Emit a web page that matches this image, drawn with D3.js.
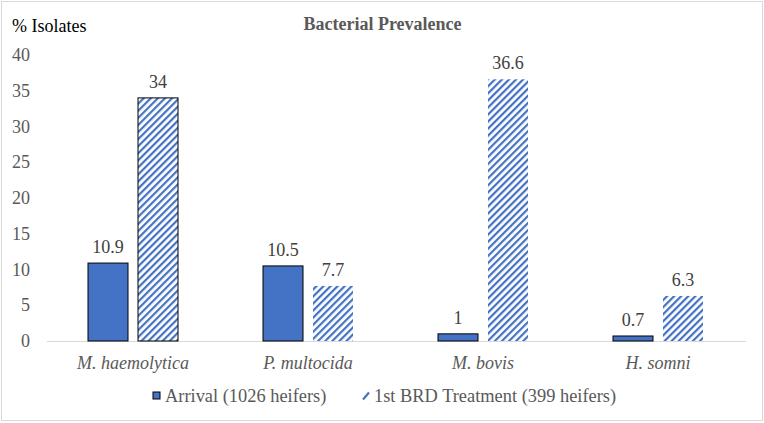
<!DOCTYPE html>
<html><head><meta charset="utf-8">
<script src="https://cdn.jsdelivr.net/npm/d3@7"></script>
</head><body style="margin:0">
<script>
const categories = ["M. haemolytica", "P. multocida", "M. bovis", "H. somni"];
const arrival = [10.9, 10.5, 1, 0.7];
const treatment = [34, 7.7, 36.6, 6.3];
const arrivalLabels = ["10.9", "10.5", "1", "0.7"];
const treatmentLabels = ["34", "7.7", "36.6", "6.3"];
const seriesNames = ["Arrival (1026 heifers)", "1st BRD Treatment (399 heifers)"];
const yTicks = [0, 5, 10, 15, 20, 25, 30, 35, 40];

const W = 764, H = 423;
const FF = '"Liberation Serif", "Tinos", "Times New Roman"';
const svg = d3.select("body").append("svg").attr("width", W).attr("height", H)
  .style("display", "block").style("font-family", FF);
const blue = "#4472C4";

const defs = svg.append("defs");
const pat = defs.append("pattern").attr("id", "hatch").attr("patternUnits", "userSpaceOnUse")
  .attr("width", 5).attr("height", 5).attr("patternTransform", "rotate(45)");
pat.append("rect").attr("width", 5).attr("height", 5).attr("fill", "#fff");
pat.append("rect").attr("x", 0).attr("y", 0).attr("width", 2.2).attr("height", 5).attr("fill", blue);

svg.append("rect").attr("x", 1.5).attr("y", 1.5).attr("width", W - 3).attr("height", H - 4)
  .attr("fill", "#fff").attr("stroke", "#d9d9d9").attr("stroke-width", 1);

const x = d3.scaleBand().domain(categories).range([45.5, 745.5]);
const y = d3.scaleLinear().domain([0, 40]).range([341, 55]);

function txt(sel) { return sel.style("font-family", FF); }

txt(svg.append("g").selectAll("text").data(yTicks).join("text"))
  .attr("x", 30).attr("y", d => y(d) + 6).attr("text-anchor", "end")
  .style("font-size", "18px").style("fill", "#595959").text(d => d);

svg.append("line").attr("x1", 47).attr("x2", 746).attr("y1", y(0) + 0.5).attr("y2", y(0) + 0.5)
  .attr("stroke", "#d9d9d9").attr("stroke-width", 1);

const bw = 40, gap = 10;
const g = svg.append("g");
categories.forEach((c, i) => {
  const cx = x(c) + x.bandwidth() / 2;
  const x1 = cx - gap / 2 - bw, x2 = cx + gap / 2;
  g.append("rect").attr("x", x1).attr("y", y(arrival[i])).attr("width", bw)
    .attr("height", y(0) - y(arrival[i])).attr("fill", blue).attr("stroke", "#000").attr("stroke-width", 1);
  g.append("rect").attr("x", x2).attr("y", y(treatment[i])).attr("width", bw)
    .attr("height", y(0) - y(treatment[i])).attr("fill", "url(#hatch)")
    .attr("stroke", i === 0 ? "#000" : "none").attr("stroke-width", 1);
  txt(g.append("text")).attr("x", x1 + bw / 2).attr("y", y(arrival[i]) - 10).attr("text-anchor", "middle")
    .style("font-size", "18px").style("fill", "#404040").text(arrivalLabels[i]);
  txt(g.append("text")).attr("x", x2 + bw / 2).attr("y", y(treatment[i]) - 10).attr("text-anchor", "middle")
    .style("font-size", "18px").style("fill", "#404040").text(treatmentLabels[i]);
  txt(g.append("text")).attr("x", cx).attr("y", 369).attr("text-anchor", "middle")
    .style("font-size", "18px").style("font-style", "italic").style("fill", "#595959").text(c);
});

txt(svg.append("text")).attr("x", 382.5).attr("y", 30).attr("text-anchor", "middle")
  .style("font-size", "18px").style("font-weight", "bold").style("fill", "#595959")
  .text("Bacterial Prevalence");
txt(svg.append("text")).attr("x", 12).attr("y", 32).style("font-size", "18px")
  .style("fill", "#000").text("% Isolates");

const lg = svg.append("g");
lg.append("rect").attr("x", 153).attr("y", 392).attr("width", 7).attr("height", 7)
  .attr("fill", blue).attr("stroke", "#000").attr("stroke-width", 1);
txt(lg.append("text")).attr("x", 165).attr("y", 402).style("font-size", "18.4px")
  .style("fill", "#595959").text(seriesNames[0]);
lg.append("line").attr("x1", 363).attr("y1", 399.5).attr("x2", 369).attr("y2", 392.5)
  .attr("stroke", blue).attr("stroke-width", 2.2);
txt(lg.append("text")).attr("x", 374).attr("y", 402).style("font-size", "18.4px")
  .style("fill", "#595959").text(seriesNames[1]);
</script>
</body></html>
